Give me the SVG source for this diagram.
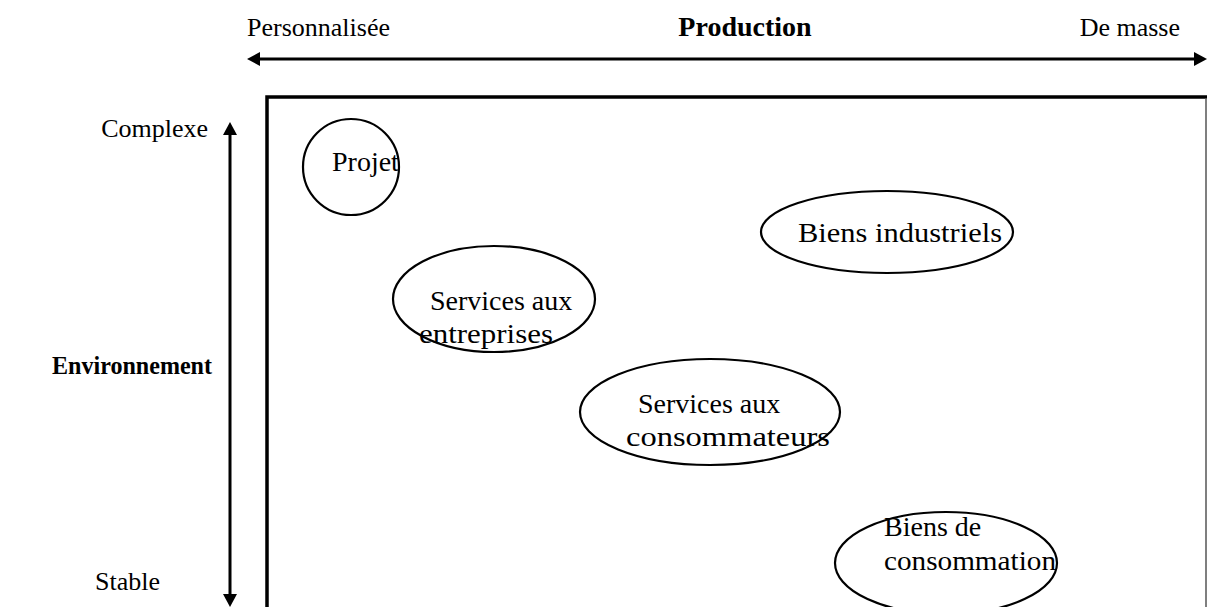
<svg xmlns="http://www.w3.org/2000/svg" width="1207" height="607" viewBox="0 0 1207 607">
<defs>
<style>
.t{font-family:"Liberation Serif","Times New Roman",serif;font-size:28px;fill:#000}
.s{font-size:26px}
.b{font-weight:bold}
.e{fill:none;stroke:#000;stroke-width:2.2}
.ax{stroke:#000;stroke-width:3;fill:none}
</style>
<marker id="ah" viewBox="0 0 13 14" refX="0" refY="7" markerWidth="13" markerHeight="14" markerUnits="userSpaceOnUse" orient="auto-start-reverse">
<path d="M0,0 L13,7 L0,14 z" fill="#000"/>
</marker>
</defs>
<rect width="1207" height="607" fill="#fff"/>
<g id="frame">
<path d="M267,612 L267,97 L1207,97" fill="none" stroke="#000" stroke-width="3.5"/>
<line x1="1206" y1="98" x2="1206" y2="612" stroke="#555" stroke-width="1.5"/>
</g>
<g id="connectors">
<line class="ax" x1="260" y1="59" x2="1194" y2="59" marker-start="url(#ah)" marker-end="url(#ah)"/>
<line class="ax" x1="230" y1="135" x2="230" y2="594" stroke-width="2.5" marker-start="url(#ah)" marker-end="url(#ah)"/>
</g>
<g id="axis-labels">
<text class="t s" x="247" y="36">Personnalisée</text>
<text class="t b" x="745" y="36" text-anchor="middle">Production</text>
<text class="t s" x="1180" y="36" text-anchor="end">De masse</text>
<text class="t s" x="208" y="137" text-anchor="end">Complexe</text>
<text class="t s b" x="212" y="374" text-anchor="end" textLength="160" lengthAdjust="spacingAndGlyphs">Environnement</text>
<text class="t s" x="95" y="590">Stable</text>
</g>
<g id="projet">
<ellipse class="e" cx="351" cy="167" rx="48" ry="48"/>
<text class="t" x="332" y="171">Projet</text>
</g>
<g id="biens-industriels">
<ellipse class="e" cx="887" cy="232" rx="126" ry="41"/>
<text class="t" x="798" y="242" textLength="204" lengthAdjust="spacingAndGlyphs">Biens industriels</text>
</g>
<g id="services-entreprises">
<ellipse class="e" cx="494" cy="299" rx="101" ry="53"/>
<text class="t" x="430" y="310">Services aux</text>
<text class="t" x="419" y="343" textLength="134" lengthAdjust="spacingAndGlyphs">entreprises</text>
</g>
<g id="services-consommateurs">
<ellipse class="e" cx="710" cy="412" rx="130" ry="53"/>
<text class="t" x="638" y="413">Services aux</text>
<text class="t" x="626" y="446" textLength="204" lengthAdjust="spacingAndGlyphs">consommateurs</text>
</g>
<g id="biens-consommation">
<ellipse class="e" cx="946" cy="563" rx="111" ry="51"/>
<text class="t" x="884" y="536">Biens de</text>
<text class="t" x="884" y="570" textLength="172" lengthAdjust="spacingAndGlyphs">consommation</text>
</g>
</svg>
